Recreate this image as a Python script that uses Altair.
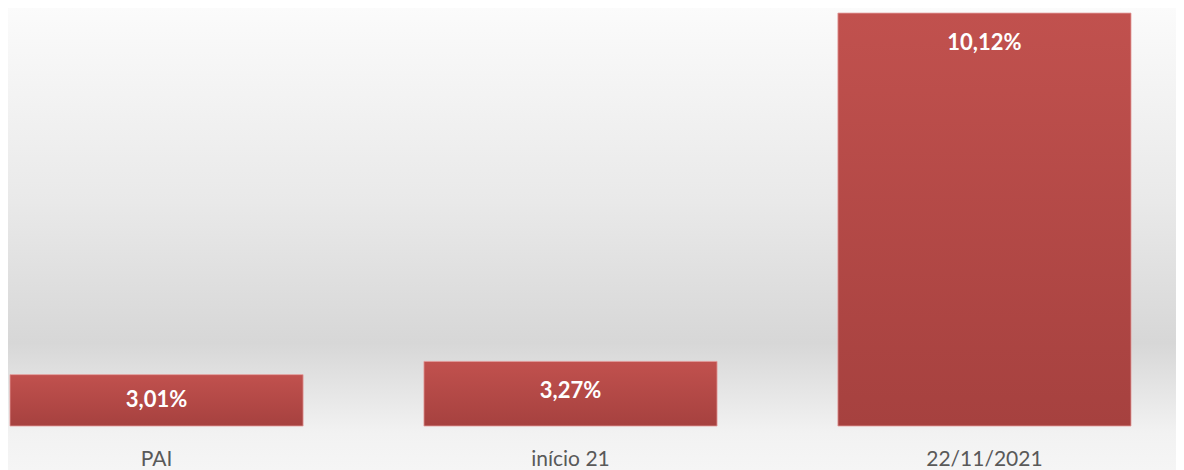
import altair as alt
import pandas as pd

categories = ["PAI", "início 21", "22/11/2021"]
values = [3.01, 3.27, 10.12]

df = pd.DataFrame({"categoria": categories, "valor": values})

W = 1168
H = 418

bg = alt.Chart(pd.DataFrame({"a": [0]})).mark_rect(
    color=alt.Gradient(
        gradient="linear", x1=0, x2=0, y1=0, y2=1,
        stops=[
            alt.GradientStop(offset=0, color="#fbfbfb"),
            alt.GradientStop(offset=0.42, color="#e9e9e9"),
            alt.GradientStop(offset=0.725, color="#d7d7d7"),
            alt.GradientStop(offset=0.92, color="#f2f2f2"),
            alt.GradientStop(offset=1, color="#f5f5f5"),
        ],
    )
).encode(
    x=alt.value(0), x2=alt.value(W), y=alt.value(0), y2=alt.value(462)
)

xenc = alt.X(
    "categoria:N",
    sort=categories,
    title=None,
    scale=alt.Scale(range=[2, 1123], paddingInner=0.292, paddingOuter=0),
    axis=alt.Axis(
        labelAngle=0, domain=False, ticks=False, tickSize=0, grid=False,
        labelFont="Lato", labelFontSize=21, labelColor="#595959",
        labelPadding=33, labelBaseline="middle", zindex=2,
    ),
)
yscale = alt.Scale(domain=[2, 10.22], zero=False, nice=False)

bars = alt.Chart(df).mark_bar(
    color=alt.Gradient(
        gradient="linear", x1=0, x2=0, y1=0, y2=1,
        stops=[
            alt.GradientStop(offset=0, color="#c1514e"),
            alt.GradientStop(offset=1, color="#a6413f"),
        ],
    ),
    stroke="#e39a98",
    strokeWidth=1,
    strokeOpacity=0.8,
).encode(
    x=xenc,
    y=alt.Y("valor:Q", scale=yscale, axis=None),
    y2=alt.datum(2),
)

labels = alt.Chart(df).transform_calculate(
    rotulo="replace(format(datum.valor, '.2f'), '.', ',') + '%'",
    pos="max(datum.valor - 0.59, (datum.valor + 2) / 2)",
).mark_text(
    font="Lato", fontSize=22, fontWeight="bold", color="#ffffff",
    baseline="middle",
).encode(
    x=alt.X("categoria:N", sort=categories),
    y=alt.Y("pos:Q", scale=yscale),
    text="rotulo:N",
)

chart = alt.layer(bg, bars, labels).properties(
    width=W, height=H, padding=0
).configure_view(stroke=None, fill=None).configure(background="transparent")

chart.save("out.html", embed_options={"renderer": "svg", "actions": False})
